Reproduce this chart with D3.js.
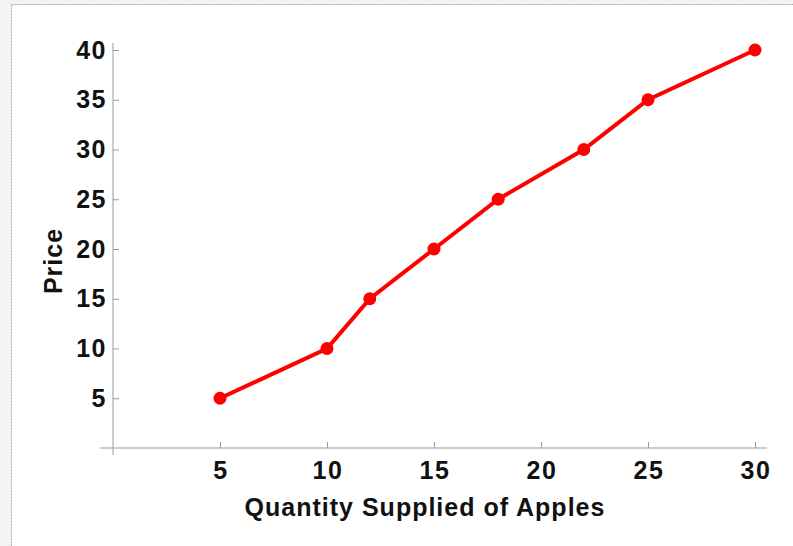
<!DOCTYPE html>
<html>
<head>
<meta charset="utf-8">
<script src="https://cdn.jsdelivr.net/npm/d3@7"></script>
<style>
  body { margin: 0; background: #f3f3f3; }
  svg { display: block; }
</style>
</head>
<body>
<div id="chart"></div>
<script>
// supply schedule
var quantity = [5, 10, 12, 15, 18, 22, 25, 30];
var price = [5, 10, 15, 20, 25, 30, 35, 40];
var xTicks = [5, 10, 15, 20, 25, 30];
var yTicks = [5, 10, 15, 20, 25, 30, 35, 40];

var data = quantity.map(function(q, i) {
    return { q: q, p: price[i] };
});

var font = 'Liberation Sans, Arial, sans-serif';

var svg = d3.select('#chart')
    .append('svg')
    .attr('width', 793)
    .attr('height', 546);

// white panel with a dashed frame
svg.append('rect')
    .attr('x', 11.5)
    .attr('y', 4.5)
    .attr('width', 800)
    .attr('height', 560)
    .attr('fill', '#fff')
    .attr('stroke', '#aaa')
    .attr('stroke-dasharray', '2,1');

var x = d3.scaleLinear().domain([0, 30]).range([113, 755]);
var y = d3.scaleLinear().domain([0, 40]).range([448, 50]);

var axisColor = '#999';

// x axis line, runs a bit past both ends
svg.append('line')
    .attr('x1', 100).attr('x2', 767)
    .attr('y1', y(0)).attr('y2', y(0))
    .attr('stroke', axisColor);

// y axis line
svg.append('line')
    .attr('x1', x(0)).attr('x2', x(0))
    .attr('y1', 43).attr('y2', 455)
    .attr('stroke', axisColor);

var xAxis = svg.append('g')
    .attr('transform', 'translate(0,' + y(0) + ')')
    .call(d3.axisTop(x).tickValues(xTicks).tickSize(6).tickFormat(d3.format('d')));
xAxis.select('.domain').remove();
xAxis.selectAll('line').attr('stroke', axisColor);
xAxis.selectAll('text')
    .attr('y', 13)
    .attr('dy', '0.71em')
    .attr('dx', '0.5px')
    .attr('fill', '#111')
    .style('font-family', font)
    .style('font-weight', 'bold')
    .style('font-size', '25px')
    .style('letter-spacing', '1.5px');

var yAxis = svg.append('g')
    .attr('transform', 'translate(' + x(0) + ',0)')
    .call(d3.axisRight(y).tickValues(yTicks).tickSize(6).tickFormat(d3.format('d')));
yAxis.select('.domain').remove();
yAxis.selectAll('line').attr('stroke', axisColor);
yAxis.selectAll('text')
    .attr('x', -6)
    .attr('text-anchor', 'end')
    .attr('fill', '#111')
    .style('font-family', font)
    .style('font-weight', 'bold')
    .style('font-size', '25px')
    .style('letter-spacing', '1.5px');

// supply curve
var line = d3.line()
    .x(function(d) { return x(d.q); })
    .y(function(d) { return y(d.p); });

svg.append('path')
    .datum(data)
    .attr('d', line)
    .attr('fill', 'none')
    .attr('stroke', '#f00')
    .attr('stroke-width', 4);

svg.selectAll('.pt')
    .data(data)
    .enter()
    .append('circle')
    .attr('class', 'pt')
    .attr('cx', function(d) { return x(d.q); })
    .attr('cy', function(d) { return y(d.p); })
    .attr('r', 6.5)
    .attr('fill', '#f00');

// axis titles
svg.append('text')
    .attr('x', 425)
    .attr('y', 516)
    .attr('text-anchor', 'middle')
    .style('font-family', font)
    .style('font-weight', 'bold')
    .style('font-size', '25px')
    .style('letter-spacing', '1px')
    .attr('fill', '#111')
    .text('Quantity Supplied of Apples');

svg.append('text')
    .attr('transform', 'translate(62,261) rotate(-90)')
    .attr('text-anchor', 'middle')
    .style('font-family', font)
    .style('font-weight', 'bold')
    .style('font-size', '25px')
    .style('letter-spacing', '1px')
    .attr('fill', '#111')
    .text('Price');
</script>
</body>
</html>
